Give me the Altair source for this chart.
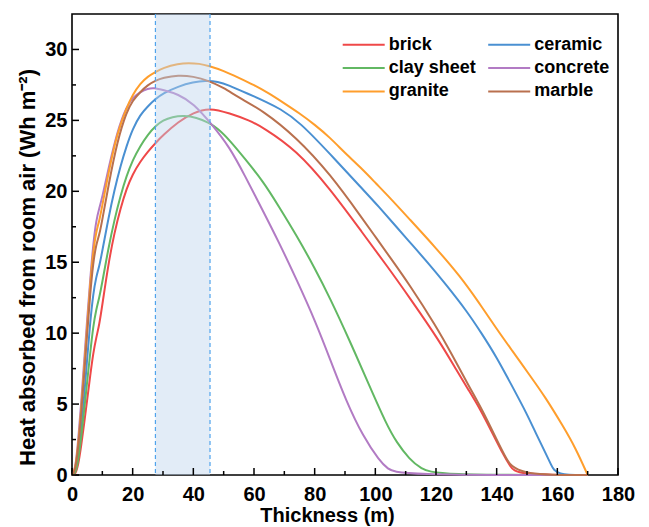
import altair as alt
import pandas as pd

# Materials, in legend order, and their line colours
materials = ["brick", "ceramic", "clay sheet", "concrete", "granite", "marble"]
colors = ["#EF4848", "#4A90D2", "#62B863", "#B27BC4", "#FF9E2C", "#B9704E"]

# Heat absorbed from room air (Wh m^-2) against thickness (m)
brick_x = [0, 1, 2, 3, 4, 5, 6, 7, 8, 9, 10, 12, 14, 16, 18, 20, 22.5, 25, 27.5, 30, 35, 40, 45.3,
           52, 58.5, 63, 74, 85, 96, 104, 111.3, 121, 127, 131, 134.4, 138, 142, 144.5, 146.5, 170]
brick_y = [0, 0.0, 0.6, 2.0, 3.6, 5.3, 7.0, 8.6, 9.7, 10.6, 12.0, 14.9, 17.1, 18.8, 20.2, 21.2, 22.1, 22.8, 23.4, 23.95, 24.9, 25.55, 25.9,
           25.5, 25.0, 24.5, 22.9, 20.2, 17.0, 14.7, 12.5, 9.5, 7.3, 5.9, 4.7, 3.2, 1.5, 0.6, 0, 0]

ceramic_x = [0, 1, 2, 3, 4, 5, 6, 7, 8, 9, 10, 12, 14, 16, 18, 20, 22.5, 25, 27.5, 30, 35, 40, 44, 48,
             52, 56, 60, 64, 68.4, 75, 85, 96, 100, 111, 118, 123.4, 130, 135, 140, 145, 150, 153, 156, 158, 159.6, 170]
ceramic_y = [0, 0.1, 1.2, 3.2, 5.5, 8.2, 10.8, 12.8, 14.0, 14.7, 15.8, 18.1, 20.1, 21.8, 23.2, 24.4, 25.4, 26.0, 26.5, 26.9, 27.4, 27.7, 27.8, 27.75,
             27.45, 27.05, 26.7, 26.3, 25.85, 24.9, 22.65, 20.1, 19.2, 16.5, 14.8, 13.4, 11.6, 10.0, 8.3, 6.3, 4.3, 2.9, 1.6, 0.7, 0, 0]

clay_x = [0, 1, 2, 3, 4, 5, 6, 7, 8, 9, 10, 12, 14, 16, 18, 20, 22.5, 25, 27.5, 30, 33, 37, 41, 45, 48,
          52, 57, 63, 68, 74, 80, 85, 91.5, 98, 103.6, 107, 111.3, 115, 120, 170]
clay_y = [0, 0.05, 0.9, 2.6, 4.5, 6.6, 8.6, 10.5, 11.7, 12.5, 13.6, 16.0, 18.0, 19.7, 21.1, 22.2, 23.2, 24.0, 24.6, 25.0, 25.25, 25.35, 25.2, 24.85, 24.45,
          23.6, 22.3, 20.7, 19.0, 16.9, 14.6, 12.5, 9.5, 6.3, 3.6, 2.3, 1.1, 0.45, 0, 0]

concrete_x = [0, 1, 2, 3, 4, 5, 6, 7, 8, 9, 10, 12, 15, 18, 20, 22.5, 25, 27, 30, 35, 40, 46,
              52, 57, 63, 68, 74, 80.5, 85, 90.4, 96, 101.4, 104, 107.5, 170]
concrete_y = [0, 0.3, 2.3, 5.0, 8.0, 11.0, 13.8, 16.3, 18.0, 18.8, 19.6, 21.6, 24.3, 26.0, 26.6, 27.0, 27.25, 27.3, 27.15, 26.85, 26.2, 24.75,
              23.1, 21.1, 18.6, 16.5, 13.8, 10.7, 8.2, 5.2, 2.7, 1.0, 0.45, 0, 0]

granite_x = [0, 1, 2, 3, 4, 5, 6, 7, 8, 9, 10, 12, 15, 18, 20, 22.5, 25, 27.5, 30, 35, 38.5, 42, 45,
             50, 55, 60, 65, 70, 75, 80, 85, 90, 96, 100, 105, 111, 120, 128, 134, 140, 145, 151, 156, 162, 166, 170]
granite_y = [0, 0.3, 2.0, 4.5, 7.5, 10.5, 13.5, 15.8, 17.2, 17.9, 19.0, 21.3, 24.2, 25.9, 26.8, 27.6, 28.1, 28.4, 28.7, 29.0, 29.05, 29.0, 28.85,
             28.5, 28.0, 27.5, 26.9, 26.2, 25.5, 24.7, 23.8, 22.7, 21.5, 20.6, 19.5, 18.1, 16.0, 14.0, 12.2, 10.3, 8.8, 7.0, 5.5, 3.4, 1.9, 0]

marble_x = [0, 1, 2, 3, 4, 5, 6, 7, 8, 9, 10, 12, 15, 18, 20, 22.5, 25, 27.5, 30, 35, 40, 45,
            50, 55, 62.9, 74, 85, 96, 100, 105, 111.3, 120, 125, 131, 135, 140, 143, 146.5, 170]
marble_y = [0, 0.2, 1.8, 4.2, 7.0, 10.0, 12.8, 15.0, 16.3, 16.9, 18.0, 20.4, 23.6, 25.6, 26.4, 27.0, 27.5, 27.8, 28.0, 28.2, 28.1, 27.8,
            27.3, 26.6, 25.7, 23.8, 21.25, 18.0, 16.8, 15.3, 13.4, 10.5, 8.6, 6.2, 4.7, 2.5, 1.2, 0, 0]

# Highlighted thickness range
band_start, band_end = 27.5, 45.5

# Axis ticks
x_major = list(range(0, 181, 20))
x_minor = list(range(10, 180, 20))
y_major = [0, 5, 10, 15, 20, 25, 30]
y_minor = [2.5, 7.5, 12.5, 17.5, 22.5, 27.5]

series = {
    "brick": (brick_x, brick_y),
    "ceramic": (ceramic_x, ceramic_y),
    "clay sheet": (clay_x, clay_y),
    "concrete": (concrete_x, concrete_y),
    "granite": (granite_x, granite_y),
    "marble": (marble_x, marble_y),
}
records = []
for name, (xs, ys) in series.items():
    for xv, yv in zip(xs, ys):
        records.append({"material": name, "thickness": xv, "heat": yv})
curves = pd.DataFrame(records)

W, H = 546, 461
FONT = "Liberation Sans"
x_scale = alt.Scale(domain=[0, 180], nice=False, zero=False)
y_scale = alt.Scale(domain=[0, 32.5], nice=False, zero=False)

axis_style = dict(
    labelFont=FONT, labelFontSize=20, labelFontWeight="bold", labelColor="black",
    titleFont=FONT, titleFontWeight="bold", titleColor="black",
    grid=False, domain=False, ticks=False, labelOverlap=False, labelFlush=False,
)
# One axis definition per channel, shared by every layer
x_axis = alt.Axis(title="Thickness (m)", values=x_major, labelPadding=9, titleFontSize=20,
                  titleX=255, titleY=46, titleBaseline="alphabetic", **axis_style)
y_axis = alt.Axis(title="Heat absorbed from room air (Wh m⁻²)", values=y_major,
                  labelPadding=5, titleFontSize=22, titleX=-45, titleY=253, titleAngle=270,
                  titleBaseline="middle", **axis_style)

lines = alt.Chart(curves).mark_line(strokeWidth=2, interpolate="basis").encode(
    x=alt.X("thickness:Q", scale=x_scale, axis=x_axis),
    y=alt.Y("heat:Q", scale=y_scale, axis=y_axis),
    color=alt.Color("material:N", scale=alt.Scale(domain=materials, range=colors),
                    legend=alt.Legend(title=None, orient="none", legendX=282.7, legendY=21.8,
                                      direction="horizontal", columns=2,
                                      symbolType="M-3,0H3", symbolSize=196,
                                      symbolStrokeWidth=2, labelFont=FONT, labelFontSize=18,
                                      labelFontWeight="bold", labelColor="black", labelOffset=16,
                                      rowPadding=5.3, columnPadding=7.5, padding=0)),
)

band = alt.Chart(pd.DataFrame({"start": [band_start], "end": [band_end]})).mark_rect(
    color="#BCD3EC", opacity=0.44
).encode(
    x=alt.X("start:Q", scale=x_scale, axis=x_axis), x2="end:Q",
    y=alt.value(0), y2=alt.value(H),
)

edges = alt.Chart(pd.DataFrame({"edge": [band_start, band_end]})).mark_rule(
    color="#4FA3EC", strokeDash=[4, 3], strokeWidth=1.2
).encode(x=alt.X("edge:Q", scale=x_scale, axis=x_axis), y=alt.value(0), y2=alt.value(H))


def x_ticks(vals, length):
    return alt.Chart(pd.DataFrame({"t": vals})).mark_rule(color="black", strokeWidth=1.5).encode(
        x=alt.X("t:Q", scale=x_scale, axis=x_axis), y=alt.value(H), y2=alt.value(H - length))


def y_ticks(vals, length):
    return alt.Chart(pd.DataFrame({"t": vals})).mark_rule(color="black", strokeWidth=1.5).encode(
        y=alt.Y("t:Q", scale=y_scale, axis=y_axis), x=alt.value(0), x2=alt.value(length))


chart = alt.layer(
    lines, band, edges,
    x_ticks(x_major, 7), x_ticks(x_minor, 4),
    y_ticks(y_major, 7), y_ticks(y_minor, 4),
).properties(
    width=W, height=H,
    padding={"left": 72, "top": 14, "right": 31, "bottom": 52},
    autosize=alt.AutoSizeParams(type="none"),
).configure_view(
    stroke="black", strokeWidth=1.6
)

chart.save("out.html", embed_options={"renderer": "svg", "actions": False})
